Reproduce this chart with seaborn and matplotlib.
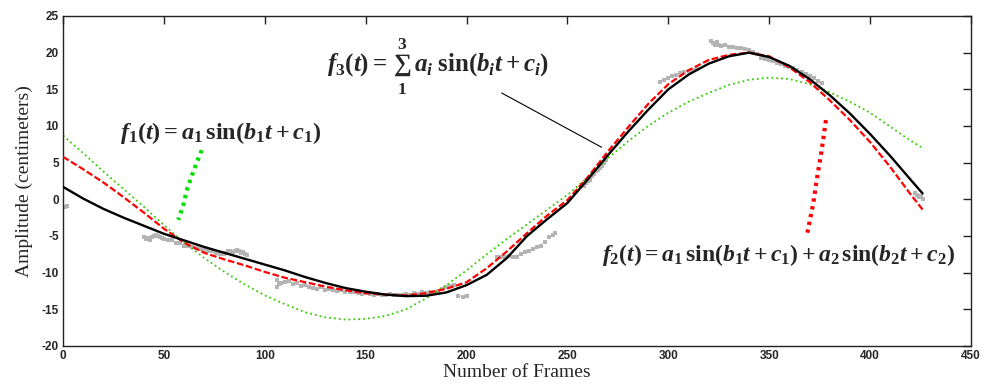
import matplotlib
matplotlib.use('Agg')
import matplotlib.pyplot as plt
import seaborn as sns
import pandas as pd

# fitted curves (frame, amplitude)
fit_x = [0, 10, 20, 30, 40, 50, 60, 70, 80, 90, 100, 110, 120, 130, 140, 150,
         160, 170, 180, 190, 200, 210, 220, 230, 240, 250, 260, 270, 280, 290,
         300, 310, 320, 330, 340, 350, 360, 370, 380, 390, 400, 410, 420, 426]
f1_y = [8.7, 6.3, 3.8, 1.4, -1.0, -3.5, -5.9, -8.0, -9.9, -11.6, -13.1, -14.3,
        -15.4, -16.1, -16.4, -16.3, -15.9, -15.0, -13.5, -11.7, -9.7, -7.5,
        -5.4, -3.4, -1.4, 0.6, 3.0, 5.6, 7.9, 10.0, 11.8, 13.3, 14.5, 15.6,
        16.3, 16.6, 16.4, 15.7, 14.6, 13.3, 11.8, 9.9, 8.0, 7.0]
f2_y = [5.8, 4.1, 2.3, 0.3, -1.8, -4.0, -5.9, -7.3, -8.2, -9.0, -9.9, -10.7,
        -11.3, -11.9, -12.4, -12.8, -13.0, -13.1, -12.8, -12.2, -11.3, -9.4,
        -7.1, -4.6, -2.2, -0.1, 3.0, 6.5, 9.8, 13.0, 15.7, 17.6, 19.0, 19.7,
        20.0, 19.5, 18.0, 16.0, 13.5, 10.8, 7.8, 4.4, 0.7, -1.4]
f3_y = [1.7, 0.1, -1.3, -2.5, -3.6, -4.7, -5.6, -6.5, -7.3, -8.1, -8.9, -9.7,
        -10.6, -11.4, -12.1, -12.6, -13.0, -13.2, -13.15, -12.7, -11.7, -10.3,
        -8.0, -5.0, -2.7, -0.5, 2.7, 6.0, 9.2, 12.2, 15.0, 17.0, 18.5, 19.5,
        20.0, 19.4, 18.2, 16.4, 14.2, 11.7, 8.9, 5.9, 2.7, 0.8]

# raw tracked points (grey)
raw_x = [1, 2,
         40, 41, 42, 43, 44, 45, 46, 47, 48, 49, 50, 52, 54, 56,
         58, 60, 62, 64, 66, 68, 70, 72, 74, 76, 78, 80,
         81, 82, 83, 84, 85, 86, 87, 88, 89, 90, 91,
         106, 106, 107, 108, 110, 112, 114, 116, 118, 120, 122, 124, 126, 128,
         130, 132, 134, 136, 138, 140, 142, 144, 146, 148, 150, 152, 154, 156,
         158, 160, 162, 164, 166, 168, 170, 172, 174, 176, 178, 180, 182, 184,
         186, 188, 190, 192, 194, 196, 198, 200,
         215, 217, 219, 221, 223, 225, 227, 229, 231, 233, 235, 237, 239, 241,
         243, 244,
         258, 259, 260, 261, 262, 263, 264, 265, 266, 267, 268, 269,
         296, 298, 300, 302, 304, 306, 308, 310, 312, 314,
         321, 322, 323, 324, 325, 326, 328, 330, 332, 334, 336, 338, 340, 342,
         344, 346, 348, 350, 352, 354, 356, 358, 360, 362, 364, 366, 368, 370,
         372, 374, 376,
         422, 423, 424, 425, 426]
raw_y = [-1.0, -0.9,
         -5.2, -5.4, -5.3, -5.5, -5.1, -5.0, -4.8, -5.0, -5.2, -5.3, -5.4, -5.5,
         -5.6, -5.9,
         -6.0, -6.3, -6.4, -6.5, -6.6, -6.8, -6.9, -7.0, -7.1, -7.3, -7.5, -7.5,
         -7.3, -7.1, -7.0, -7.2, -7.0, -6.9, -7.1, -7.3, -7.2, -7.5, -7.6,
         -11.0, -12.0, -11.6, -11.4, -11.3, -11.2, -11.5, -11.4, -11.8, -11.7,
         -12.0, -12.1, -12.2, -12.0, -12.3, -12.2, -12.4, -12.5, -12.4, -12.6,
         -12.7, -12.6, -12.8, -12.9, -12.8, -12.9, -13.0, -12.9, -13.0, -13.1,
         -12.9, -13.0, -13.1, -13.0, -12.9, -13.0, -12.8, -12.9, -12.7, -12.8,
         -12.6, -12.7, -12.5, -12.2, -12.0, -11.8, -11.7, -13.2, -13.3, -13.2,
         -7.9, -7.8, -7.9, -7.7, -7.8, -7.9, -7.5, -7.2, -7.0, -6.8, -6.5, -6.3,
         -5.8, -5.2, -4.8, -4.6,
         1.8, 2.2, 2.5, 2.6, 3.2, 3.5, 3.8, 4.0, 4.3, 4.6, 5.0, 5.3,
         16.0, 16.3, 16.6, 16.8, 17.0, 17.2, 17.4, 17.5, 17.7, 17.8,
         21.6, 21.3, 21.0, 21.4, 21.0, 20.9, 21.0, 20.8, 20.8, 20.7, 20.6, 20.5,
         20.4, 20.1, 19.8, 19.3, 19.2, 19.0, 18.8, 18.6, 18.4, 18.2, 18.0, 17.9,
         17.6, 17.3, 17.1, 16.8, 16.5, 16.2, 15.8,
         0.8, 0.6, 0.3, 0.5, 0.1]

# label pointers
f1_ptr_x = [68.7, 66.0, 63.3, 61.3, 59.6, 57.1]
f1_ptr_y = [6.7, 4.8, 2.8, 1.2, -0.8, -2.8]
f2_ptr_x = [378.1, 376.0, 373.5, 371.8, 368.5]
f2_ptr_y = [10.8, 6.7, 2.6, -0.6, -5.1]
f3_ptr_x = [217.4, 266.9]
f3_ptr_y = [14.5, 7.1]

x_ticks = list(range(0, 451, 50))
y_ticks = list(range(-20, 26, 5))

sns.set_style('white')
plt.rcParams.update({
    'font.family': ['Liberation Sans', 'DejaVu Sans'],
    'axes.unicode_minus': False,
    'mathtext.fontset': 'custom',
    'mathtext.rm': 'Liberation Serif:bold',
    'mathtext.it': 'Liberation Serif:bold:italic',
    'mathtext.bf': 'Liberation Serif:bold',
})

fig = plt.figure(figsize=(9.86, 3.87), dpi=100)
ax = fig.add_axes([0.0639, 0.106, 0.9209, 0.8527])

fits = pd.DataFrame({'frame': fit_x, 'f1': f1_y, 'f2': f2_y, 'f3': f3_y})
raw = pd.DataFrame({'frame': raw_x, 'amp': raw_y})

sns.scatterplot(data=raw, x='frame', y='amp', ax=ax, color='#b4b4b4',
                marker='s', s=8, linewidth=0, zorder=1)
sns.lineplot(data=fits, x='frame', y='f1', ax=ax, color='#33cc00', lw=1.3,
             zorder=2).lines[-1].set_dashes((1, 1.7))
sns.lineplot(data=fits, x='frame', y='f2', ax=ax, color='#ff0000',
             lw=1.6, zorder=3).lines[-1].set_dashes((3, 1.2))
sns.lineplot(data=fits, x='frame', y='f3', ax=ax, color='black', lw=1.7,
             zorder=4)

sns.lineplot(x=f1_ptr_x, y=f1_ptr_y, sort=False, ax=ax, color='#00e000',
             lw=3).lines[-1].set_dashes((0.8, 1.1))
sns.lineplot(x=f2_ptr_x, y=f2_ptr_y, sort=False, ax=ax, color='#ff0000',
             lw=3).lines[-1].set_dashes((0.8, 1.1))
sns.lineplot(x=f3_ptr_x, y=f3_ptr_y, sort=False, ax=ax, color='black', lw=0.8)

ax.text(28.2, 9.1, r'$f_1(t) = a_1\,\sin(b_1 t + c_1)$', fontsize=17.5,
        ha='left', va='center')
ax.text(130.7, 18.0, r'$f_3(t) = \,\sum_1^3 \;a_i\;\sin(b_i t + c_i)$',
        fontsize=18, ha='left', va='center')
ax.text(267.0, -7.6,
        r'$f_2(t) = a_1\,\sin(b_1 t + c_1) + a_2\,\sin(b_2 t + c_2)$',
        fontsize=17, ha='left', va='center')

ax.set_xlim(0, 450)
ax.set_ylim(-20, 25)
ax.set_xticks(x_ticks)
ax.set_yticks(y_ticks)
ax.tick_params(direction='in', length=6, width=1, top=True, right=True,
               labelsize=8.5, pad=3, color='#222222')
for lab in ax.get_xticklabels() + ax.get_yticklabels():
    lab.set_fontweight('bold')
for sp in ax.spines.values():
    sp.set_linewidth(1)
    sp.set_color('#222222')

ax.set_xlabel('Number of Frames', family='Liberation Serif', fontsize=14,
              labelpad=1)
ax.set_ylabel('Amplitude (centimeters)', family='Liberation Serif',
              fontsize=14, labelpad=6)
ax.grid(False)

fig.savefig('out.png', dpi=100)
